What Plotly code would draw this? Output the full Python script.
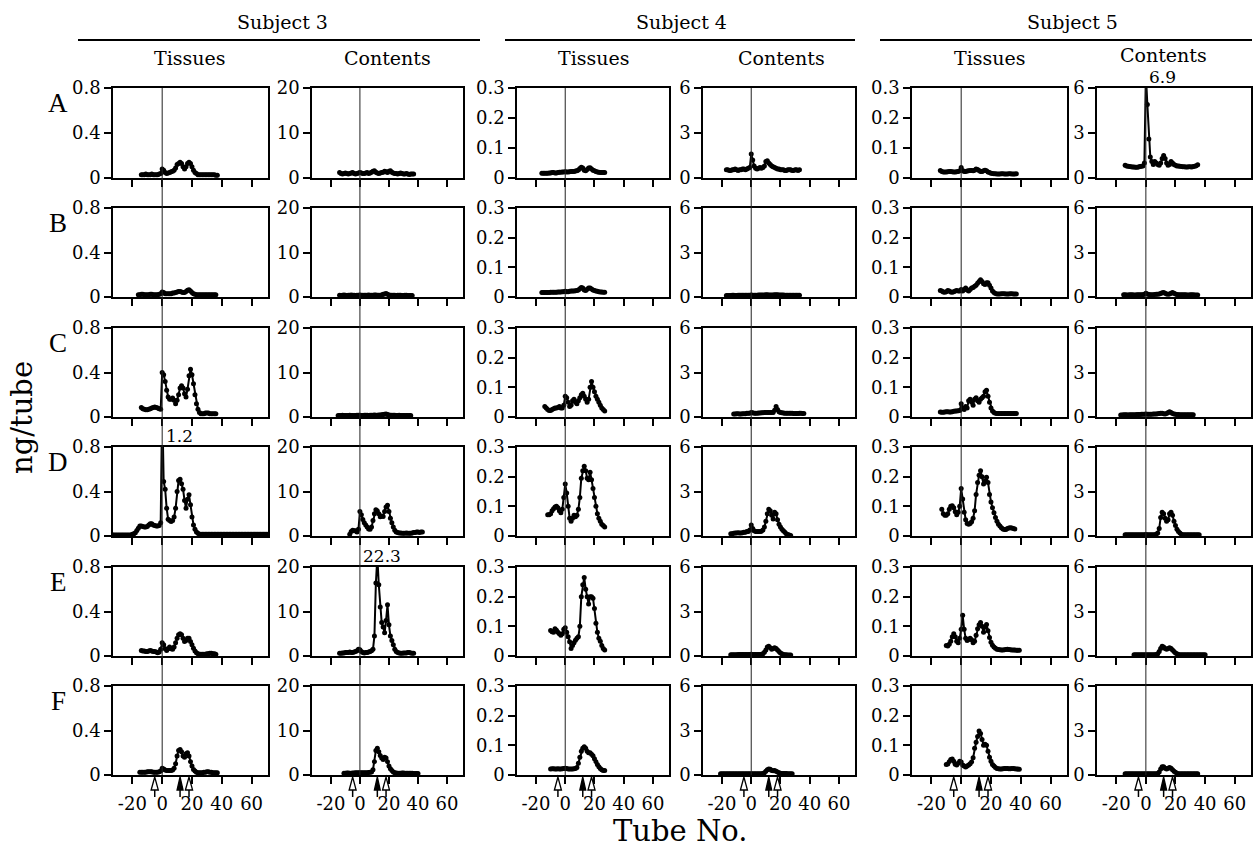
import plotly.graph_objects as go

# ------------------------------------------------------------------ data
ROWS = ["A", "B", "C", "D", "E", "F"]
SUBJECTS = ["Subject 3", "Subject 4", "Subject 5"]
SAMPLES = ["Tissues", "Contents", "Tissues", "Contents", "Tissues", "Contents"]
X_TICKS = [-20, 0, 20, 40, 60]
X_TICKTEXT = ["-20", "0", "20", "40", "60"]
Y_MAX = [0.8, 20, 0.3, 6, 0.3, 6]
Y_TICKS = [[0, 0.4, 0.8], [0, 10, 20], [0, 0.1, 0.2, 0.3], [0, 3, 6], [0, 0.1, 0.2, 0.3], [0, 3, 6]]
Y_TICKTEXT = [["0", "0.4", "0.8"], ["0", "10", "20"], ["0", "0.1", "0.2", "0.3"], ["0", "3", "6"],
              ["0", "0.1", "0.2", "0.3"], ["0", "3", "6"]]
ARROW_OPEN = [-5, 18]      # tube numbers of open arrows
ARROW_FILLED = [12]        # tube number of filled arrow
OFFSCALE_ROW = [3, 4, 0]   # D, E, A
OFFSCALE_COL = [0, 1, 5]
OFFSCALE_TEXT = ["1.2", "22.3", "6.9"]

# first tube of each profile, rows A..F
S3T_START = [-14, -16, -14, -34, -14, -15]
S3C_START = [-14, -14, -15, -7, -14, -11]
S4T_START = [-16, -16, -14, -12, -10, -10]
S4C_START = [-17, -17, -12, -14, -14, -21]
S5T_START = [-14, -14, -14, -13, -10, -10]
S5C_START = [-14, -15, -17, -14, -8, -14]

# Subject 3, tissues (ng/tube)
S3T_A = [0.03, 0.03, 0.03, 0.035, 0.03, 0.03, 0.03, 0.035, 0.03, 0.03, 0.03, 0.03, 0.035,
         0.04, 0.08, 0.07, 0.05, 0.04, 0.045, 0.05, 0.055, 0.06, 0.07, 0.09, 0.12, 0.13, 0.14, 0.13,
         0.1, 0.08, 0.1, 0.13, 0.14, 0.13, 0.1, 0.07, 0.05, 0.04,
         0.03, 0.03, 0.03, 0.03, 0.03, 0.03, 0.03, 0.03, 0.03, 0.03, 0.03, 0.03, 0.025, 0.025]
S3T_B = [0.02, 0.02, 0.025, 0.025, 0.02, 0.02, 0.02, 0.02, 0.025, 0.025, 0.02, 0.02, 0.02, 0.02, 0.025,
         0.03, 0.045, 0.04, 0.03, 0.03, 0.03, 0.03, 0.03, 0.035, 0.035, 0.04, 0.045, 0.05, 0.05, 0.045,
         0.04, 0.04, 0.05, 0.06, 0.065, 0.055, 0.04, 0.03, 0.025,
         0.02, 0.02, 0.02, 0.02, 0.02, 0.02, 0.02, 0.02, 0.02, 0.02, 0.02, 0.02, 0.02, 0.02]
S3T_C = [0.085, 0.075, 0.07, 0.065, 0.065, 0.07, 0.075, 0.08, 0.085, 0.09, 0.085, 0.08, 0.075, 0.07,
         0.40, 0.38, 0.32, 0.24, 0.18, 0.16, 0.16, 0.17, 0.15, 0.12, 0.15, 0.2, 0.26, 0.28, 0.26, 0.21,
         0.18, 0.25, 0.37, 0.43, 0.38, 0.3, 0.2, 0.12, 0.07, 0.04,
         0.03, 0.03, 0.03, 0.035, 0.035, 0.035, 0.03, 0.03, 0.03, 0.03, 0.03]
S3T_D = [0.01, 0.01, 0.01, 0.01, 0.01, 0.01, 0.01, 0.01, 0.01, 0.01, 0.01, 0.01, 0.01, 0.01,
         0.015, 0.02, 0.03, 0.05, 0.07, 0.09, 0.09, 0.085, 0.08, 0.08, 0.085, 0.1, 0.11, 0.11, 0.1,
         0.095, 0.09, 0.09, 0.095, 0.12,
         1.2, 0.49, 0.42, 0.25, 0.15, 0.14, 0.13, 0.14, 0.17, 0.25, 0.4, 0.5, 0.51, 0.47, 0.42, 0.32,
         0.25, 0.33, 0.37, 0.28, 0.17, 0.1, 0.06, 0.035, 0.025,
         0.015, 0.015, 0.015, 0.015, 0.015, 0.015, 0.015, 0.015, 0.015, 0.015, 0.015, 0.015, 0.015,
         0.015, 0.015, 0.015, 0.015, 0.015, 0.015, 0.015, 0.015, 0.015, 0.015, 0.015, 0.015, 0.015,
         0.015, 0.015, 0.015, 0.015, 0.015, 0.015, 0.015, 0.015, 0.015, 0.015, 0.015, 0.015, 0.015,
         0.015, 0.015, 0.015, 0.015, 0.015, 0.015, 0.015, 0.015]
S3T_E = [0.05, 0.045, 0.045, 0.04, 0.04, 0.045, 0.05, 0.045, 0.04, 0.04, 0.035, 0.03, 0.035, 0.06,
         0.12, 0.1, 0.065, 0.05, 0.065, 0.08, 0.065, 0.06, 0.08, 0.12, 0.16, 0.19, 0.2, 0.19, 0.16,
         0.13, 0.14, 0.16, 0.16, 0.13, 0.1, 0.07, 0.045, 0.03, 0.02,
         0.015, 0.015, 0.015, 0.015, 0.015, 0.02, 0.02, 0.025, 0.025, 0.02, 0.02, 0.015]
S3T_F = [0.025, 0.025, 0.025, 0.025, 0.025, 0.03, 0.03, 0.03, 0.03, 0.025, 0.025, 0.025, 0.025, 0.03,
         0.035, 0.06, 0.055, 0.045, 0.04, 0.04, 0.04, 0.04, 0.045, 0.06, 0.1, 0.17, 0.22, 0.23, 0.21,
         0.17, 0.16, 0.19, 0.2, 0.17, 0.12, 0.08, 0.05, 0.035, 0.025,
         0.02, 0.02, 0.02, 0.02, 0.025, 0.025, 0.03, 0.03, 0.025, 0.025, 0.02, 0.02, 0.02, 0.02]

# Subject 3, contents
S3C_A = [1.2, 1.0, 0.9, 1.0, 1.1, 1.0, 0.9, 1.0, 1.1, 1.2, 1.0, 0.9, 1.0, 1.1,
         1.2, 1.1, 1.0, 1.0, 1.1, 1.2, 1.0, 1.1, 1.3, 1.5, 1.6, 1.3, 1.1,
         1.0, 1.1, 1.2, 1.3, 1.5, 1.4, 1.2, 1.5, 1.6, 1.3, 1.1, 1.0, 1.0,
         0.9, 1.0, 1.1, 1.0, 0.9, 0.9, 1.0, 0.9, 0.8, 0.9, 0.9, 0.9]
S3C_B = [0.4, 0.35, 0.4, 0.45, 0.4, 0.35, 0.4, 0.4, 0.45, 0.4, 0.4, 0.35, 0.4, 0.4,
         0.45, 0.4, 0.4, 0.4, 0.4, 0.4, 0.45, 0.4, 0.4, 0.4, 0.45, 0.45, 0.4, 0.4, 0.4, 0.45, 0.6,
         0.65, 0.8, 0.6, 0.45, 0.4, 0.4, 0.4, 0.4, 0.35, 0.4, 0.4, 0.4, 0.35, 0.35, 0.4, 0.4, 0.35,
         0.35, 0.35, 0.35]
S3C_C = [0.35, 0.35, 0.35, 0.4, 0.35, 0.35, 0.35, 0.35, 0.4, 0.35, 0.35, 0.35, 0.35, 0.4, 0.4,
         0.4, 0.35, 0.35, 0.4, 0.4, 0.4, 0.35, 0.4, 0.4, 0.4, 0.45, 0.4, 0.4, 0.45, 0.45, 0.5,
         0.55, 0.6, 0.7, 0.55, 0.45, 0.4, 0.4, 0.4, 0.4, 0.35, 0.35, 0.4, 0.35, 0.35, 0.35, 0.35,
         0.35, 0.35, 0.35, 0.35]
S3C_D = [0.4, 1.0, 1.3, 1.2, 1.2, 0.9, 1.5,
         5.5, 4.8, 3.7, 3.0, 2.5, 2.0, 1.6, 1.5, 2.0, 3.5, 5.0, 5.9, 5.6, 5.0, 4.3, 4.5, 4.4, 5.5,
         6.5, 6.9, 5.5, 4.0, 3.0, 2.0, 1.3,
         0.9, 0.8, 0.7, 0.7, 0.6, 0.6, 0.6, 0.7, 0.6, 0.6, 0.6, 0.7, 0.8, 0.8, 0.9, 0.9, 0.8, 0.9, 0.9]
S3C_E = [0.6, 0.6, 0.7, 0.7, 0.8, 0.8, 0.8, 0.9, 0.8, 0.8, 0.9, 1.0, 1.2,
         1.5, 1.4, 1.0, 0.8, 0.7, 0.8, 0.8, 0.9, 1.0, 1.2, 1.5, 4.5, 16.4, 22.3, 16.0, 11.0, 7.5,
         6.5, 5.2, 8.0, 11.5, 7.0, 4.5, 3.5, 2.5, 1.5,
         1.0, 0.8, 0.7, 0.6, 0.6, 0.7, 0.7, 0.7, 0.8, 0.8, 0.7, 0.6, 0.6]
S3C_F = [0.4, 0.4, 0.45, 0.45, 0.4, 0.4, 0.45, 0.45, 0.5, 0.5, 0.5,
         0.5, 0.5, 0.5, 0.5, 0.5, 0.5, 0.55, 0.6, 0.7, 1.2, 3.0, 5.5, 6.0, 5.2, 4.4, 3.8, 3.5, 4.0,
         3.8, 3.0, 2.0, 1.4, 1.0, 0.7, 0.5,
         0.45, 0.4, 0.4, 0.4, 0.45, 0.45, 0.4, 0.4, 0.4, 0.4, 0.4, 0.4, 0.35, 0.35, 0.35, 0.35]

# Subject 4, tissues
S4T_A = [0.016, 0.016, 0.016, 0.016, 0.016, 0.017, 0.017, 0.018, 0.018, 0.017, 0.017, 0.018,
         0.019, 0.019, 0.02, 0.02,
         0.021, 0.02, 0.02, 0.021, 0.022, 0.022, 0.022, 0.023, 0.024, 0.027, 0.032, 0.036, 0.033,
         0.026, 0.024, 0.028, 0.033, 0.034, 0.03, 0.026, 0.024, 0.022, 0.02, 0.019, 0.018, 0.018,
         0.018, 0.018]
S4T_B = [0.015, 0.015, 0.015, 0.015, 0.015, 0.015, 0.016, 0.016, 0.016, 0.016, 0.016, 0.017,
         0.017, 0.017, 0.018, 0.018,
         0.019, 0.018, 0.018, 0.019, 0.02, 0.02, 0.02, 0.021, 0.022, 0.024, 0.028, 0.032, 0.03,
         0.024, 0.022, 0.026, 0.03, 0.03, 0.027, 0.024, 0.022, 0.02, 0.019, 0.018, 0.017, 0.017,
         0.016, 0.016]
S4T_C = [0.035, 0.03, 0.025, 0.022, 0.022, 0.025, 0.028, 0.03, 0.03, 0.032, 0.035, 0.03, 0.03, 0.04,
         0.07, 0.065, 0.05, 0.035, 0.04, 0.055, 0.06, 0.05, 0.045, 0.055, 0.065, 0.075, 0.08, 0.07,
         0.06, 0.05, 0.06, 0.1, 0.12, 0.1, 0.085, 0.07, 0.06, 0.05, 0.04, 0.03, 0.025, 0.02]
S4T_D = [0.072, 0.072, 0.075, 0.085, 0.092, 0.098, 0.1, 0.095, 0.085, 0.078, 0.09, 0.13,
         0.175, 0.145, 0.1, 0.06, 0.05, 0.06, 0.07, 0.065, 0.07, 0.09, 0.13, 0.195, 0.22, 0.235,
         0.22, 0.195, 0.19, 0.215, 0.19, 0.16, 0.13, 0.1, 0.075, 0.06, 0.05, 0.04, 0.035, 0.03]
S4T_E = [0.086, 0.082, 0.08, 0.092, 0.087, 0.08, 0.075, 0.07, 0.075, 0.09,
         0.095, 0.08, 0.065, 0.048, 0.025, 0.035, 0.045, 0.053, 0.06, 0.065, 0.1, 0.2, 0.24, 0.265,
         0.225, 0.2, 0.175, 0.2, 0.2, 0.195, 0.16, 0.11, 0.08, 0.06, 0.05, 0.035, 0.025, 0.02]
S4T_F = [0.02, 0.021, 0.021, 0.02, 0.02, 0.021, 0.02, 0.02, 0.021, 0.022,
         0.023, 0.022, 0.02, 0.02, 0.02, 0.02, 0.021, 0.022, 0.025, 0.04, 0.06, 0.08, 0.09, 0.095,
         0.09, 0.08, 0.075, 0.075, 0.07, 0.065, 0.055, 0.045, 0.035, 0.028, 0.022, 0.018, 0.015, 0.015]

# Subject 4, contents
S4C_A = [0.55, 0.55, 0.5, 0.5, 0.55, 0.55, 0.6, 0.55, 0.5, 0.55, 0.55, 0.6, 0.6, 0.55, 0.6, 0.65, 0.7,
         1.6, 1.2, 0.8, 0.65, 0.6, 0.65, 0.7, 0.65, 0.7, 0.8, 1.1, 1.15, 1.0, 0.9, 0.8, 0.75, 0.7,
         0.65, 0.6, 0.6, 0.55, 0.55, 0.55, 0.5, 0.5, 0.55, 0.55, 0.55, 0.5, 0.5, 0.55, 0.55, 0.5, 0.55]
S4C_B = [0.1, 0.1, 0.1, 0.1, 0.11, 0.11, 0.1, 0.1, 0.11, 0.11, 0.12, 0.12, 0.11, 0.11, 0.12, 0.12, 0.12,
         0.13, 0.12, 0.12, 0.12, 0.12, 0.13, 0.13, 0.13, 0.13, 0.14, 0.15, 0.15, 0.14, 0.13, 0.13, 0.14,
         0.15, 0.16, 0.15, 0.14, 0.13, 0.13, 0.13, 0.12, 0.12, 0.12, 0.12, 0.12, 0.12, 0.12, 0.12, 0.12,
         0.12, 0.12]
S4C_C = [0.2, 0.2, 0.22, 0.22, 0.2, 0.2, 0.22, 0.22, 0.22, 0.25, 0.25, 0.25,
         0.3, 0.28, 0.25, 0.25, 0.25, 0.27, 0.27, 0.28, 0.28, 0.3, 0.3, 0.3, 0.3, 0.3, 0.3, 0.3, 0.45,
         0.7, 0.5, 0.35, 0.3, 0.28, 0.27, 0.26, 0.25, 0.25, 0.25, 0.25, 0.25, 0.24, 0.24, 0.24, 0.24,
         0.25, 0.25, 0.24, 0.24]
S4C_D = [0.15, 0.15, 0.18, 0.2, 0.2, 0.22, 0.2, 0.2, 0.22, 0.25, 0.25, 0.3, 0.3, 0.4,
         0.75, 0.5, 0.35, 0.3, 0.3, 0.3, 0.3, 0.32, 0.4, 0.6, 1.0, 1.5, 1.8, 1.7, 1.4, 1.15, 1.6, 1.5,
         1.1, 0.8, 0.6, 0.45, 0.35, 0.25, 0.15, 0.1, 0.06, 0.04]
S4C_E = [0.08, 0.08, 0.08, 0.09, 0.09, 0.1, 0.1, 0.1, 0.1, 0.1, 0.1, 0.1, 0.1, 0.1,
         0.12, 0.1, 0.1, 0.1, 0.1, 0.1, 0.1, 0.12, 0.15, 0.25, 0.4, 0.6, 0.65, 0.55, 0.45, 0.5, 0.55,
         0.5, 0.4, 0.3, 0.2, 0.15, 0.1, 0.08, 0.08, 0.07, 0.07, 0.07]
S4C_F = [0.08, 0.08, 0.08, 0.08, 0.08, 0.08, 0.08, 0.08, 0.08, 0.08, 0.08, 0.08, 0.08, 0.08, 0.08,
         0.08, 0.08, 0.08, 0.08, 0.08, 0.08,
         0.08, 0.08, 0.08, 0.08, 0.08, 0.08, 0.08, 0.08, 0.1, 0.15, 0.25, 0.35, 0.4, 0.38, 0.3, 0.28,
         0.3, 0.25, 0.2, 0.15, 0.12, 0.1, 0.1, 0.1, 0.1, 0.09, 0.09, 0.09, 0.09]

# Subject 5, tissues
S5T_A = [0.025, 0.022, 0.02, 0.02, 0.02, 0.021, 0.022, 0.022, 0.021, 0.02, 0.02, 0.021, 0.022, 0.024,
         0.035, 0.025, 0.022, 0.022, 0.023, 0.024, 0.025, 0.025, 0.024, 0.026, 0.03, 0.028, 0.025,
         0.022, 0.022, 0.024, 0.026, 0.024, 0.02, 0.018, 0.016, 0.015, 0.014, 0.014,
         0.013, 0.013, 0.013, 0.014, 0.014, 0.013, 0.013, 0.013, 0.014, 0.014, 0.013, 0.013, 0.013,
         0.014]
S5T_B = [0.022, 0.02, 0.017, 0.016, 0.018, 0.022, 0.02, 0.017, 0.016, 0.018, 0.02, 0.022, 0.02, 0.02,
         0.025, 0.02, 0.025, 0.03, 0.024, 0.02, 0.025, 0.03, 0.032, 0.036, 0.04, 0.046, 0.052, 0.058,
         0.052, 0.045, 0.042, 0.048, 0.048, 0.04, 0.03, 0.02, 0.015, 0.012,
         0.01, 0.01, 0.01, 0.011, 0.011, 0.011, 0.01, 0.01, 0.01, 0.011, 0.011, 0.01, 0.01, 0.01]
S5T_C = [0.017, 0.016, 0.016, 0.017, 0.018, 0.018, 0.017, 0.017, 0.018, 0.019, 0.02, 0.02, 0.021,
         0.022,
         0.045, 0.03, 0.025, 0.035, 0.03, 0.055, 0.06, 0.05, 0.04, 0.06, 0.065, 0.055, 0.05, 0.06,
         0.065, 0.07, 0.085, 0.09, 0.07, 0.05, 0.03, 0.02, 0.015, 0.013,
         0.012, 0.012, 0.012, 0.012, 0.012, 0.012, 0.012, 0.012, 0.012, 0.012, 0.012, 0.012, 0.012,
         0.012]
S5T_D = [0.09, 0.075, 0.07, 0.07, 0.075, 0.09, 0.1, 0.102, 0.095, 0.082, 0.072, 0.08, 0.1,
         0.16, 0.125, 0.08, 0.055, 0.042, 0.04, 0.042, 0.048, 0.06, 0.085, 0.14, 0.18, 0.205, 0.22,
         0.2, 0.175, 0.185, 0.198, 0.18, 0.14, 0.115, 0.095, 0.078, 0.062, 0.05, 0.04, 0.034, 0.028,
         0.024, 0.022, 0.022, 0.025, 0.027, 0.028, 0.027, 0.025, 0.024]
S5T_E = [0.035, 0.034, 0.04, 0.05, 0.065, 0.075, 0.065, 0.05, 0.045, 0.06,
         0.09, 0.137, 0.09, 0.06, 0.052, 0.056, 0.06, 0.055, 0.045, 0.05, 0.07, 0.092, 0.105, 0.113,
         0.1, 0.08, 0.098, 0.106, 0.085, 0.062, 0.046, 0.036, 0.03, 0.026,
         0.023, 0.022, 0.021, 0.02, 0.02, 0.021, 0.022, 0.023, 0.022, 0.021, 0.02, 0.02, 0.02, 0.019,
         0.019, 0.019]
S5T_F = [0.035, 0.037, 0.045, 0.052, 0.054, 0.046, 0.036, 0.034, 0.04, 0.046,
         0.044, 0.034, 0.03, 0.027, 0.03, 0.034, 0.038, 0.044, 0.058, 0.09, 0.11, 0.13, 0.148, 0.14,
         0.12, 0.1, 0.104, 0.1, 0.08, 0.06, 0.046, 0.035, 0.03, 0.025,
         0.022, 0.021, 0.02, 0.02, 0.021, 0.022, 0.022, 0.022, 0.021, 0.021, 0.022, 0.022, 0.021, 0.02,
         0.02, 0.019]

# Subject 5, contents
S5C_A = [0.85, 0.8, 0.78, 0.76, 0.75, 0.74, 0.73, 0.72, 0.72, 0.74, 0.76, 0.78, 0.8, 1.0,
         6.9, 4.9, 2.6, 1.4, 1.1, 0.9, 1.1, 1.0, 0.9, 0.85, 1.0, 1.3, 1.5, 1.3, 1.0, 0.85, 0.9, 1.1,
         1.0, 0.9, 0.85, 0.8, 0.8,
         0.78, 0.76, 0.75, 0.75, 0.74, 0.74, 0.75, 0.75, 0.74, 0.76, 0.78, 0.82, 0.88]
S5C_B = [0.15, 0.15, 0.14, 0.14, 0.15, 0.15, 0.15, 0.14, 0.14, 0.15, 0.15, 0.15, 0.16, 0.16, 0.18,
         0.25, 0.2, 0.17, 0.16, 0.16, 0.16, 0.17, 0.18, 0.18, 0.2, 0.24, 0.28, 0.3, 0.25, 0.2, 0.18,
         0.2, 0.26, 0.3, 0.25, 0.2, 0.17, 0.16, 0.15, 0.15, 0.15, 0.15, 0.15, 0.14, 0.14, 0.15, 0.15,
         0.15, 0.14, 0.14, 0.14]
S5C_C = [0.14, 0.14, 0.15, 0.15, 0.15, 0.14, 0.15, 0.15, 0.16, 0.16, 0.16, 0.17, 0.17, 0.17, 0.18,
         0.18, 0.18, 0.2, 0.19, 0.18, 0.18, 0.19, 0.2, 0.2, 0.21, 0.22, 0.24, 0.26, 0.25, 0.22, 0.21,
         0.24, 0.3, 0.35, 0.3, 0.24, 0.2, 0.18, 0.17, 0.17, 0.16, 0.16, 0.16, 0.16, 0.16, 0.15, 0.15,
         0.15, 0.15, 0.15]
S5C_D = [0.08, 0.08, 0.08, 0.08, 0.08, 0.08, 0.08, 0.08, 0.08, 0.08, 0.08, 0.08, 0.08, 0.08,
         0.1, 0.09, 0.08, 0.08, 0.08, 0.08, 0.09, 0.12, 0.2, 0.5, 1.25, 1.6, 1.5, 1.2, 1.0, 1.1, 1.5,
         1.6, 1.4, 1.0, 0.7, 0.45, 0.3, 0.2, 0.12,
         0.08, 0.08, 0.08, 0.08, 0.08, 0.08, 0.08, 0.08, 0.08, 0.08, 0.08, 0.08]
S5C_E = [0.08, 0.08, 0.08, 0.08, 0.08, 0.08, 0.08, 0.08,
         0.08, 0.08, 0.08, 0.08, 0.08, 0.08, 0.08, 0.1, 0.15, 0.3, 0.5, 0.65, 0.6, 0.5, 0.45, 0.5,
         0.55, 0.5, 0.4, 0.3, 0.2, 0.15, 0.1,
         0.08, 0.08, 0.08, 0.08, 0.08, 0.08, 0.08, 0.08, 0.08, 0.08, 0.08, 0.08, 0.08, 0.08, 0.08,
         0.08, 0.08, 0.08]
S5C_F = [0.08, 0.08, 0.08, 0.08, 0.08, 0.08, 0.08, 0.08, 0.08, 0.08, 0.08, 0.08, 0.08, 0.08,
         0.08, 0.08, 0.08, 0.08, 0.08, 0.08, 0.08, 0.08, 0.1, 0.2, 0.4, 0.55, 0.55, 0.45, 0.4, 0.45,
         0.5, 0.45, 0.35, 0.25, 0.18, 0.12,
         0.08, 0.08, 0.08, 0.08, 0.08, 0.08, 0.08, 0.08, 0.08, 0.08, 0.08, 0.08, 0.08, 0.08]

PROFILES = [
    [S3T_A, S3T_B, S3T_C, S3T_D, S3T_E, S3T_F],
    [S3C_A, S3C_B, S3C_C, S3C_D, S3C_E, S3C_F],
    [S4T_A, S4T_B, S4T_C, S4T_D, S4T_E, S4T_F],
    [S4C_A, S4C_B, S4C_C, S4C_D, S4C_E, S4C_F],
    [S5T_A, S5T_B, S5T_C, S5T_D, S5T_E, S5T_F],
    [S5C_A, S5C_B, S5C_C, S5C_D, S5C_E, S5C_F],
]
STARTS = [S3T_START, S3C_START, S4T_START, S4C_START, S5T_START, S5C_START]

# ------------------------------------------------------------------ layout geometry (pixels)
W, H = 1255, 858
COL_PX = [(113, 268), (312, 463), (517, 669), (703, 855), (912, 1067), (1097, 1251)]
ROW_PX = [(88, 178), (208, 297), (328, 417), (447, 536), (567, 656), (686, 775)]
X_RANGE = [-33, 71]
SERIF = "DejaVu Serif"


def px(x):
    return x / W


def py(y):
    return 1 - y / H


fig = go.Figure()
layout = dict(width=W, height=H, margin=dict(l=0, r=0, t=0, b=0, pad=0, autoexpand=False),
              autosize=False, template="none",
              plot_bgcolor="white", paper_bgcolor="white", showlegend=False)

for r in range(6):
    for c in range(6):
        k = r * 6 + c + 1
        sfx = "" if k == 1 else str(k)
        vals = PROFILES[c][r]
        start = STARTS[c][r]
        tubes = list(range(start, start + len(vals)))
        fig.add_trace(go.Scatter(
            x=tubes, y=vals, mode="lines+markers",
            line=dict(color="black", width=2),
            marker=dict(color="black", size=5),
            xaxis="x" + sfx, yaxis="y" + sfx, hoverinfo="skip"))
        layout["xaxis" + sfx] = dict(
            domain=[px(COL_PX[c][0]), px(COL_PX[c][1])], range=X_RANGE, anchor="y" + sfx,
            tickvals=X_TICKS, ticktext=X_TICKTEXT, showticklabels=(r == 5),
            ticks="outside", ticklen=7, tickwidth=1.5, tickcolor="black",
            showline=True, linecolor="black", linewidth=1.5, mirror=True, automargin=False,
            showgrid=False, zeroline=False, ticklabelstandoff=5,
            tickfont=dict(family=SERIF, size=18, color="black"))
        layout["yaxis" + sfx] = dict(
            domain=[py(ROW_PX[r][1]), py(ROW_PX[r][0])], range=[0, Y_MAX[c]], anchor="x" + sfx,
            tickvals=Y_TICKS[c], ticktext=Y_TICKTEXT[c], automargin=False,
            ticks="outside", ticklen=7, tickwidth=1.5, tickcolor="black",
            showline=True, linecolor="black", linewidth=1.5, mirror=True,
            showgrid=False, zeroline=False,
            tickfont=dict(family=SERIF, size=18, color="black"))

shapes = []
annotations = []

# vertical reference line at tube 0 through each column, and arrows under bottom row
for c in range(6):
    k = 30 + c + 1
    xr = "x" + str(k)
    shapes.append(dict(type="line", xref=xr, yref="paper", x0=0, x1=0,
                       y0=py(ROW_PX[5][1]), y1=py(ROW_PX[0][0]),
                       line=dict(color="#222222", width=1)))
    for t, filled in [(v, False) for v in ARROW_OPEN] + [(v, True) for v in ARROW_FILLED]:
        hw = 2.4 if not filled else 2.0
        tip, base, tail = 777, 790, 797
        shapes.append(dict(type="line", xref=xr, yref="paper", x0=t, x1=t,
                           y0=py(base), y1=py(tail), line=dict(color="black", width=1.5)))
        shapes.append(dict(type="path", xref=xr, yref="paper",
                           path=f"M {t - hw},{py(base)} L {t},{py(tip)} L {t + hw},{py(base)} Z",
                           fillcolor="black" if filled else "white",
                           line=dict(color="black", width=1.3)))

# subject header rules
for x0, x1 in [(78, 480), (505, 855), (880, 1252)]:
    shapes.append(dict(type="line", xref="paper", yref="paper", x0=px(x0), x1=px(x1),
                       y0=py(40), y1=py(40), line=dict(color="black", width=2)))

for name, xc in zip(SUBJECTS, [282, 681, 1072]):
    annotations.append(dict(text=name, x=px(xc), y=py(22), xref="paper", yref="paper",
                            showarrow=False, xanchor="center", yanchor="middle",
                            font=dict(family=SERIF, size=19, color="black")))
for name, xc, yc in zip(SAMPLES, [189, 387, 593, 781, 989, 1163], [58, 58, 58, 58, 58, 55]):
    annotations.append(dict(text=name, x=px(xc), y=py(yc), xref="paper", yref="paper",
                            showarrow=False, xanchor="center", yanchor="middle",
                            font=dict(family=SERIF, size=19, color="black")))
for r, lab in enumerate(ROWS):
    annotations.append(dict(text=lab, x=px(58), y=py(ROW_PX[r][0] + 15), xref="paper", yref="paper",
                            showarrow=False, xanchor="center", yanchor="middle",
                            font=dict(family="Liberation Serif", size=27, color="black")))

for r, c, txt in zip(OFFSCALE_ROW, OFFSCALE_COL, OFFSCALE_TEXT):
    k = r * 6 + c + 1
    sfx = "" if k == 1 else str(k)
    annotations.append(dict(text=txt, x=1, xref="x" + sfx, y=py(ROW_PX[r][0] - 11), yref="paper",
                            showarrow=False, xanchor="left", yanchor="middle",
                            font=dict(family=SERIF, size=17, color="black")))

annotations.append(dict(text="ng/tube", x=px(22), y=py(418), xref="paper", yref="paper",
                        showarrow=False, textangle=-90, xanchor="center", yanchor="middle",
                        font=dict(family=SERIF, size=29, color="black")))
annotations.append(dict(text="Tube No.", x=px(680), y=py(831), xref="paper", yref="paper",
                        showarrow=False, xanchor="center", yanchor="middle",
                        font=dict(family=SERIF, size=29, color="black")))

layout["shapes"] = shapes
layout["annotations"] = annotations
fig.update_layout(**layout)

fig.write_html("out.html", config={"displayModeBar": False},
               post_script="document.body.style.margin='0';")
